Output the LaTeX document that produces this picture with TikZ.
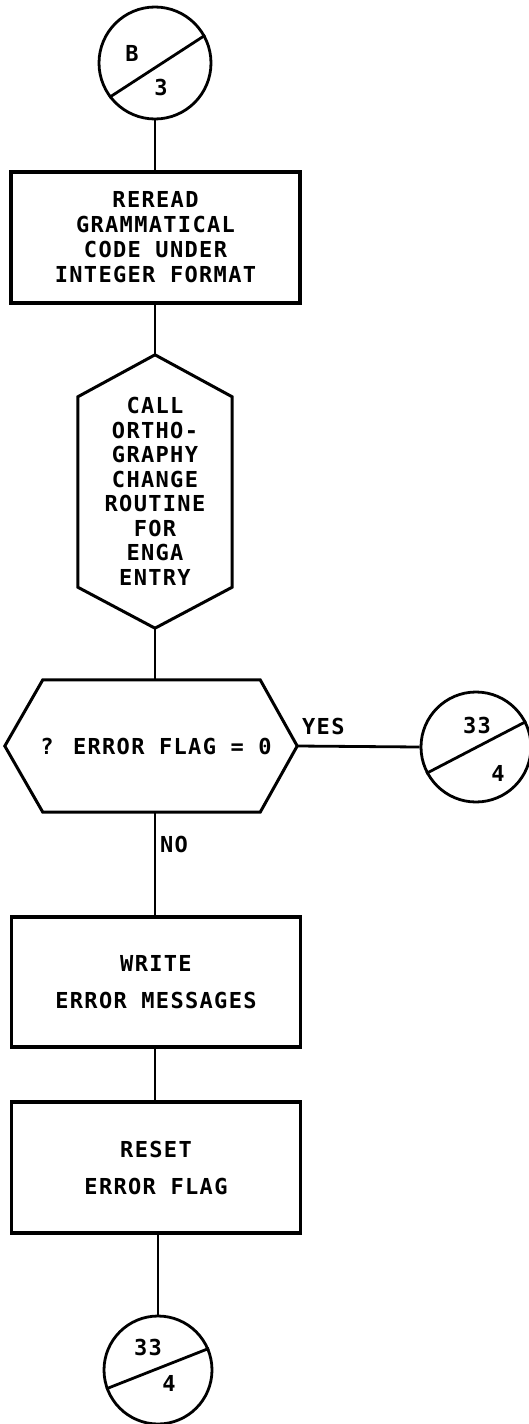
\documentclass[tikz,border=0pt]{standalone}
\usepackage{fontspec}
\newfontfamily\lp{DejaVu Sans Mono}[LetterSpace=6]
\begin{document}
\begin{tikzpicture}[x=1pt,y=-1pt,
  boxtext/.style={font={\lp\bfseries\fontsize{22pt}{25pt}\selectfont}},
  procbox/.style={draw, line width=3.5pt, minimum width=289pt, minimum height=131pt,
    inner sep=0pt, align=center, boxtext},
  hexnode/.style={inner sep=0pt, align=center, boxtext},
  hexline/.style={line width=3pt, line join=miter},
  conncirc/.style={circle, draw, line width=2.8pt, inner sep=0pt},
  circline/.style={line width=2.8pt},
  ctext/.style={inner sep=0pt, font={\lp\bfseries\fontsize{22pt}{24pt}\selectfont}},
  lbl/.style={inner sep=0pt, boxtext},
  conn/.style={line width=2.8pt}]
\useasboundingbox (0,0) rectangle (529,1424);
\fill[white] (0,0) rectangle (529,1424);
\coordinate (spine) at (155,0);

% top connector
\node[conncirc, minimum size=112pt] (c1) at (155,63) {};
\draw[circline] (c1.217) -- (c1.29);
\node[ctext] (c1t) at ([shift={(-23pt,10pt)}]c1.center) {B};
\node[ctext] (c1b) at ([shift={(6pt,-24pt)}]c1.center) {3};

\node[procbox] (b1) at (155.5,237.5) {REREAD\\GRAMMATICAL\\CODE UNDER\\INTEGER FORMAT};

\node[hexnode, minimum width=154pt, minimum height=273pt, font={\lp\bfseries\fontsize{22pt}{24.5pt}\selectfont}] (call) at (155,491.5)
  {CALL\\ORTHO-\\GRAPHY\\CHANGE\\ROUTINE\\FOR\\ENGA\\ENTRY};
\draw[hexline] (call.north) -- ([yshift=-42pt]call.north east) -- ([yshift=41pt]call.south east)
  -- (call.south) -- ([yshift=41pt]call.south west) -- ([yshift=-42pt]call.north west) -- cycle;

\node[hexnode, minimum width=292pt, minimum height=132pt] (dec) at (151,746) {\hspace*{10pt}? ERROR FLAG = 0};
\draw[hexline] (dec.west) -- ([xshift=38pt]dec.north west) -- ([xshift=-37pt]dec.north east)
  -- (dec.east) -- ([xshift=-37pt]dec.south east) -- ([xshift=38pt]dec.south west) -- cycle;

\node[conncirc, minimum size=110pt] (c2) at (476,747) {};
\draw[circline] (c2.208) -- (c2.27);
\node[ctext] (c2t) at ([shift={(1pt,22pt)}]c2.center) {33};
\node[ctext] (c2b) at ([shift={(22pt,-26pt)}]c2.center) {4};

\node[lbl, anchor=west] (yes) at (302,726) {YES};
\node[lbl, anchor=west] (no) at (160,844) {NO};

\node[procbox, minimum height=130pt] (w) at (156,982) {WRITE\\[12pt]ERROR MESSAGES};
\node[procbox] (r) at (156,1167.5) {RESET\\[12pt]ERROR FLAG};

\node[conncirc, minimum size=108pt] (c3) at (158,1370) {};
\draw[circline] (c3.200) -- (c3.23);
\node[ctext] (c3t) at ([shift={(-10pt,23pt)}]c3.center) {33};
\node[ctext] (c3b) at ([shift={(11pt,-13pt)}]c3.center) {4};

% connectors
\draw[conn] (c1.south) -- (c1.south |- b1.north);
\draw[conn] (spine |- b1.south) -- (call.north);
\draw[conn] (call.south) -- (spine |- dec.north);
\draw[conn] (dec.east) -- (c2.west);
\draw[conn] (spine |- dec.south) -- (spine |- w.north);
\draw[conn] (spine |- w.south) -- (spine |- r.north);
\draw[conn] (c3.north |- r.south) -- (c3.north);
\end{tikzpicture}
\end{document}
